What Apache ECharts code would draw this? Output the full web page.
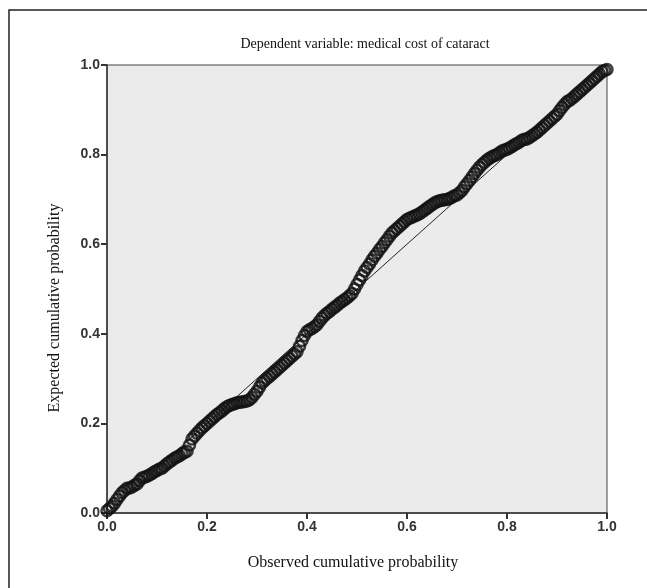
<!DOCTYPE html>
<html>
<head>
<meta charset="utf-8">
<script src="https://cdn.jsdelivr.net/npm/echarts@6/dist/echarts.min.js"></script>
<style>
  html, body { margin: 0; padding: 0; background: #fff; }
  #chart { width: 647px; height: 588px; }
</style>
</head>
<body>
<div id="chart"></div>
<script>
// observed cumulative probability (x) and expected cumulative probability (y)
const observedProb = [
  0.000, 0.005, 0.010, 0.015, 0.020, 0.025, 0.030, 0.035, 0.040, 0.045,
  0.050, 0.055, 0.060, 0.065, 0.070, 0.075, 0.080, 0.085, 0.090, 0.095,
  0.100, 0.105, 0.110, 0.115, 0.120, 0.125, 0.130, 0.135, 0.140, 0.145,
  0.150, 0.155, 0.160, 0.165, 0.170, 0.175, 0.180, 0.185, 0.190, 0.195,
  0.200, 0.205, 0.210, 0.215, 0.220, 0.225, 0.230, 0.235, 0.240, 0.245,
  0.250, 0.255, 0.260, 0.265, 0.270, 0.275, 0.280, 0.285, 0.290, 0.295,
  0.300, 0.305, 0.310, 0.315, 0.320, 0.325, 0.330, 0.335, 0.340, 0.345,
  0.350, 0.355, 0.360, 0.365, 0.370, 0.375, 0.380, 0.385, 0.390, 0.395,
  0.400, 0.405, 0.410, 0.415, 0.420, 0.425, 0.430, 0.435, 0.440, 0.445,
  0.450, 0.455, 0.460, 0.465, 0.470, 0.475, 0.480, 0.485, 0.490, 0.495,
  0.500, 0.505, 0.510, 0.515, 0.520, 0.525, 0.530, 0.535, 0.540, 0.545,
  0.550, 0.555, 0.560, 0.565, 0.570, 0.575, 0.580, 0.585, 0.590, 0.595,
  0.600, 0.605, 0.610, 0.615, 0.620, 0.625, 0.630, 0.635, 0.640, 0.645,
  0.650, 0.655, 0.660, 0.665, 0.670, 0.675, 0.680, 0.685, 0.690, 0.695,
  0.700, 0.705, 0.710, 0.715, 0.720, 0.725, 0.730, 0.735, 0.740, 0.745,
  0.750, 0.755, 0.760, 0.765, 0.770, 0.775, 0.780, 0.785, 0.790, 0.795,
  0.800, 0.805, 0.810, 0.815, 0.820, 0.825, 0.830, 0.835, 0.840, 0.845,
  0.850, 0.855, 0.860, 0.865, 0.870, 0.875, 0.880, 0.885, 0.890, 0.895,
  0.900, 0.905, 0.910, 0.915, 0.920, 0.925, 0.930, 0.935, 0.940, 0.945,
  0.950, 0.955, 0.960, 0.965, 0.970, 0.975, 0.980, 0.985, 0.990, 0.995,
  1.000
];
const expectedProb = [
  0.005, 0.010, 0.015, 0.022, 0.030, 0.038, 0.045, 0.050, 0.055, 0.056,
  0.058, 0.062, 0.065, 0.072, 0.078, 0.080, 0.082, 0.085, 0.088, 0.092,
  0.095, 0.098, 0.100, 0.105, 0.110, 0.114, 0.118, 0.122, 0.125, 0.128,
  0.132, 0.135, 0.138, 0.152, 0.165, 0.172, 0.178, 0.184, 0.190, 0.195,
  0.200, 0.205, 0.210, 0.215, 0.220, 0.224, 0.228, 0.233, 0.237, 0.240,
  0.242, 0.244, 0.246, 0.247, 0.248, 0.249, 0.250, 0.253, 0.258, 0.265,
  0.272, 0.281, 0.290, 0.295, 0.300, 0.305, 0.310, 0.315, 0.320, 0.325,
  0.330, 0.335, 0.340, 0.345, 0.350, 0.355, 0.360, 0.372, 0.385, 0.396,
  0.405, 0.409, 0.412, 0.416, 0.420, 0.428, 0.435, 0.441, 0.446, 0.450,
  0.455, 0.459, 0.463, 0.468, 0.472, 0.476, 0.480, 0.485, 0.490, 0.500,
  0.510, 0.520, 0.530, 0.540, 0.548, 0.556, 0.565, 0.573, 0.580, 0.588,
  0.595, 0.603, 0.610, 0.618, 0.625, 0.630, 0.635, 0.640, 0.645, 0.650,
  0.655, 0.658, 0.660, 0.663, 0.665, 0.668, 0.672, 0.676, 0.680, 0.684,
  0.688, 0.692, 0.695, 0.697, 0.698, 0.699, 0.700, 0.702, 0.705, 0.708,
  0.710, 0.715, 0.720, 0.728, 0.735, 0.742, 0.750, 0.758, 0.765, 0.772,
  0.778, 0.783, 0.788, 0.792, 0.795, 0.798, 0.800, 0.804, 0.808, 0.810,
  0.812, 0.815, 0.818, 0.822, 0.825, 0.828, 0.832, 0.834, 0.835, 0.838,
  0.842, 0.846, 0.850, 0.855, 0.860, 0.865, 0.870, 0.875, 0.880, 0.885,
  0.890, 0.898, 0.905, 0.912, 0.918, 0.921, 0.925, 0.930, 0.935, 0.940,
  0.945, 0.950, 0.955, 0.960, 0.965, 0.970, 0.975, 0.980, 0.985, 0.988,
  0.990
];
const refLine = [[0, 0], [1, 1]];
const tickLabels = ["0.0", "0.2", "0.4", "0.6", "0.8", "1.0"];

const points = observedProb.map((x, i) => [x, expectedProb[i]]);

const axisCommon = {
  min: 0,
  max: 1,
  interval: 0.2,
  axisLine: { show: true, onZero: false, lineStyle: { color: "#333", width: 1.5 } },
  axisTick: { show: true, inside: false, length: 6, lineStyle: { color: "#333", width: 2 } },
  axisLabel: {
    color: "#333",
    fontFamily: "Liberation Sans, Arial",
    fontWeight: "bold",
    fontSize: 14,
    margin: 7,
    formatter: (v) => tickLabels[Math.round(v * 5)],
  },
  splitLine: { show: false },
};

const serifText = { fill: "#111", fontFamily: "Liberation Serif, Times New Roman", fontSize: 16 };

const chart = echarts.init(document.getElementById("chart"));
chart.setOption({
  animation: false,
  backgroundColor: "#fff",
  title: {
    text: "Dependent variable: medical cost of cataract",
    left: 360,
    top: 32,
    textAlign: "center",
    textStyle: { color: "#111", fontFamily: "Liberation Serif, Times New Roman", fontSize: 14, fontWeight: "normal" },
  },
  graphic: [
    {
      type: "rect",
      shape: { x: 9, y: 10, width: 700, height: 700 },
      style: { fill: "none", stroke: "#222", lineWidth: 1.5 },
      silent: true,
    },
    {
      type: "text",
      x: 353,
      y: 563,
      style: Object.assign({ text: "Observed cumulative probability", align: "center", verticalAlign: "middle" }, serifText),
      silent: true,
    },
    {
      type: "text",
      x: 55,
      y: 308,
      rotation: Math.PI / 2,
      style: Object.assign({ text: "Expected cumulative probability", align: "center", verticalAlign: "middle" }, serifText),
      silent: true,
    },
  ],
  grid: {
    left: 107,
    right: 40,
    top: 65,
    bottom: 75,
    show: true,
    backgroundColor: "#ebebeb",
    borderColor: "#444",
    borderWidth: 1,
  },
  xAxis: Object.assign({ type: "value" }, axisCommon),
  yAxis: Object.assign({ type: "value" }, axisCommon),
  series: [
    {
      type: "line",
      data: refLine,
      symbol: "none",
      lineStyle: { color: "#222", width: 1 },
      z: 1,
    },
    {
      type: "scatter",
      data: points,
      symbol: "circle",
      symbolSize: 11,
      itemStyle: { color: "rgba(0,0,0,0)", borderColor: "#111", borderWidth: 2.5 },
      z: 2,
    },
  ],
});
</script>
</body>
</html>
